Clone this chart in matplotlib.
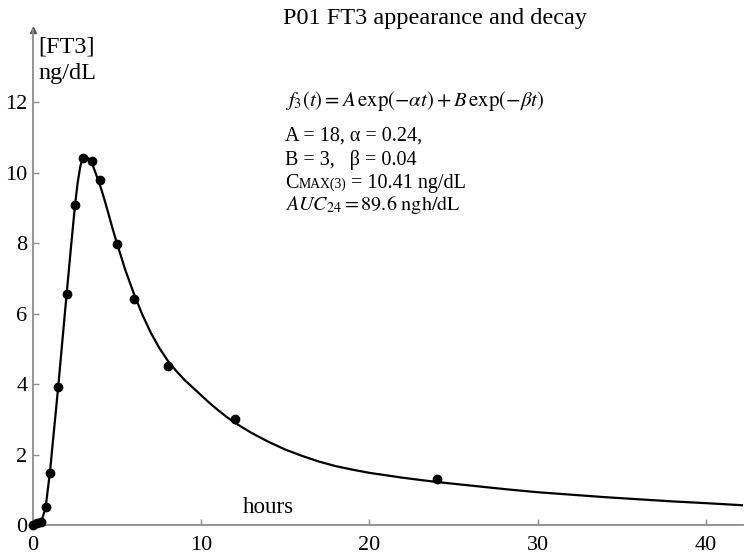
import matplotlib
matplotlib.use("Agg")
import matplotlib.pyplot as plt

plt.rcParams['font.family'] = ['Liberation Serif', 'DejaVu Serif']
plt.rcParams['mathtext.fontset'] = 'stix'

# measured data points (hours, ng/dL)
t_obs = [0.0, 0.25, 0.5, 0.75, 1.0, 1.5, 2.0, 2.5, 3.0, 3.5, 4.0, 5.0, 6.0, 8.0, 12.0, 24.0]
c_obs = [0.0, 0.05, 0.08, 0.50, 1.47, 3.93, 6.56, 9.09, 10.41, 10.33, 9.78, 7.98, 6.42, 4.52, 3.00, 1.31]

# fitted curve
t_fit = [0.0, 0.25, 0.5, 0.75, 1.0, 1.25, 1.5, 1.75, 2.0, 2.25, 2.5, 2.65, 2.8, 2.9, 3.0, 3.1,
         3.2, 3.35, 3.5, 3.75, 4.0, 4.25, 4.5, 4.75, 5.0, 5.5, 6.0, 6.5, 7.0, 7.5, 8.0, 8.5,
         9.0, 9.5, 10.0, 10.5, 11.0, 11.5, 12.0, 13.0, 14.0, 15.0, 16.0, 17.0, 18.0, 19.0,
         20.0, 21.0, 22.0, 23.0, 24.0, 25.0, 26.0, 27.0, 28.0, 30.0, 32.0, 34.0, 36.0, 38.0,
         40.0, 42.2]
c_fit = [0.0, 0.04, 0.10, 0.50, 1.47, 2.70, 3.93, 5.25, 6.56, 7.85, 9.09, 9.70, 10.15, 10.33, 10.41, 10.45,
         10.44, 10.38, 10.28, 9.95, 9.62, 9.23, 8.81, 8.38, 7.98, 7.22, 6.56, 5.97, 5.46, 5.03, 4.67, 4.38,
         4.12, 3.90, 3.68, 3.46, 3.26, 3.07, 2.90, 2.61, 2.36, 2.14, 1.96, 1.80, 1.67, 1.57,
         1.48, 1.41, 1.34, 1.28, 1.22, 1.17, 1.12, 1.07, 1.02, 0.93, 0.86, 0.79, 0.73, 0.67,
         0.62, 0.56]

xticks = [0, 10, 20, 30, 40]
yticks = [0, 2, 4, 6, 8, 10, 12]

fig = plt.figure(figsize=(7.5, 5.56), dpi=100)
ax = fig.add_axes([33/750, 31/556, 710/750, 495/556])

ax.plot(t_fit, c_fit, color='black', lw=1.6, zorder=3, solid_joinstyle='round')
ax.plot(t_obs, c_obs, 'o', color='black', ms=6, zorder=4, clip_on=False)

ax.set_xlim(0, 42.2)
ax.set_ylim(0, 14.05)
for s in ['top', 'right']:
    ax.spines[s].set_visible(False)
for s in ['left', 'bottom']:
    ax.spines[s].set_color('#8c8c8c')
    ax.spines[s].set_linewidth(1.3)
ax.set_xticks(xticks)
ax.set_yticks(yticks)
ax.set_xticklabels([str(v) for v in xticks])
ax.set_yticklabels([str(v) for v in yticks])
ax.tick_params(axis='both', direction='in', length=4, width=1.0, color='#8c8c8c',
               labelsize=16, labelcolor='black')
ax.tick_params(axis='x', pad=8)
ax.tick_params(axis='y', pad=4)
# y axis arrow tip
ax.plot([0], [1], marker='^', ms=4, color='#555555', transform=ax.transAxes, clip_on=False)

# labels
fig.text(38/750, 1 - 53/556, '[FT3]', fontsize=17.5, ha='left', va='baseline')
fig.text(38/750, 1 - 79/556, 'ng/dL', fontsize=17.5, ha='left', va='baseline')
fig.text(283/750, 1 - 24/556, 'P01 FT3 appearance and decay', fontsize=17.5, ha='left', va='baseline')
fig.text(243/750, 1 - 513/556, 'hours', fontsize=16.5, ha='left', va='baseline')

fs = 14.5
x0 = 285/750
fig.text(x0, 1 - 106/556, r'$f_3(t) = A\,\mathrm{exp}(-\alpha t) + B\,\mathrm{exp}(-\beta t)$',
         fontsize=15, ha='left', va='baseline')
fig.text(x0, 1 - 141/556, 'A = 18, α = 0.24,', fontsize=fs, ha='left', va='baseline')
fig.text(x0, 1 - 165/556, 'B = 3,   β = 0.04', fontsize=fs, ha='left', va='baseline')
tc = fig.text(x0, 1 - 188/556, 'C', fontsize=fs, ha='left', va='baseline')
fig.canvas.draw()
bb = tc.get_window_extent(renderer=fig.canvas.get_renderer())
tm = fig.text(bb.x1 / fig.bbox.width, 1 - 188/556, 'MAX(3)', fontsize=fs * 0.68, ha='left', va='baseline')
bb2 = tm.get_window_extent(renderer=fig.canvas.get_renderer())
fig.text(bb2.x1 / fig.bbox.width, 1 - 188/556, ' = 10.41 ng/dL', fontsize=fs, ha='left', va='baseline')
fig.text(x0, 1 - 210/556, r'$AUC_{24} = 89.6\ \mathrm{ngh/dL}$', fontsize=fs, ha='left', va='baseline')

fig.savefig('out.png', dpi=100)
